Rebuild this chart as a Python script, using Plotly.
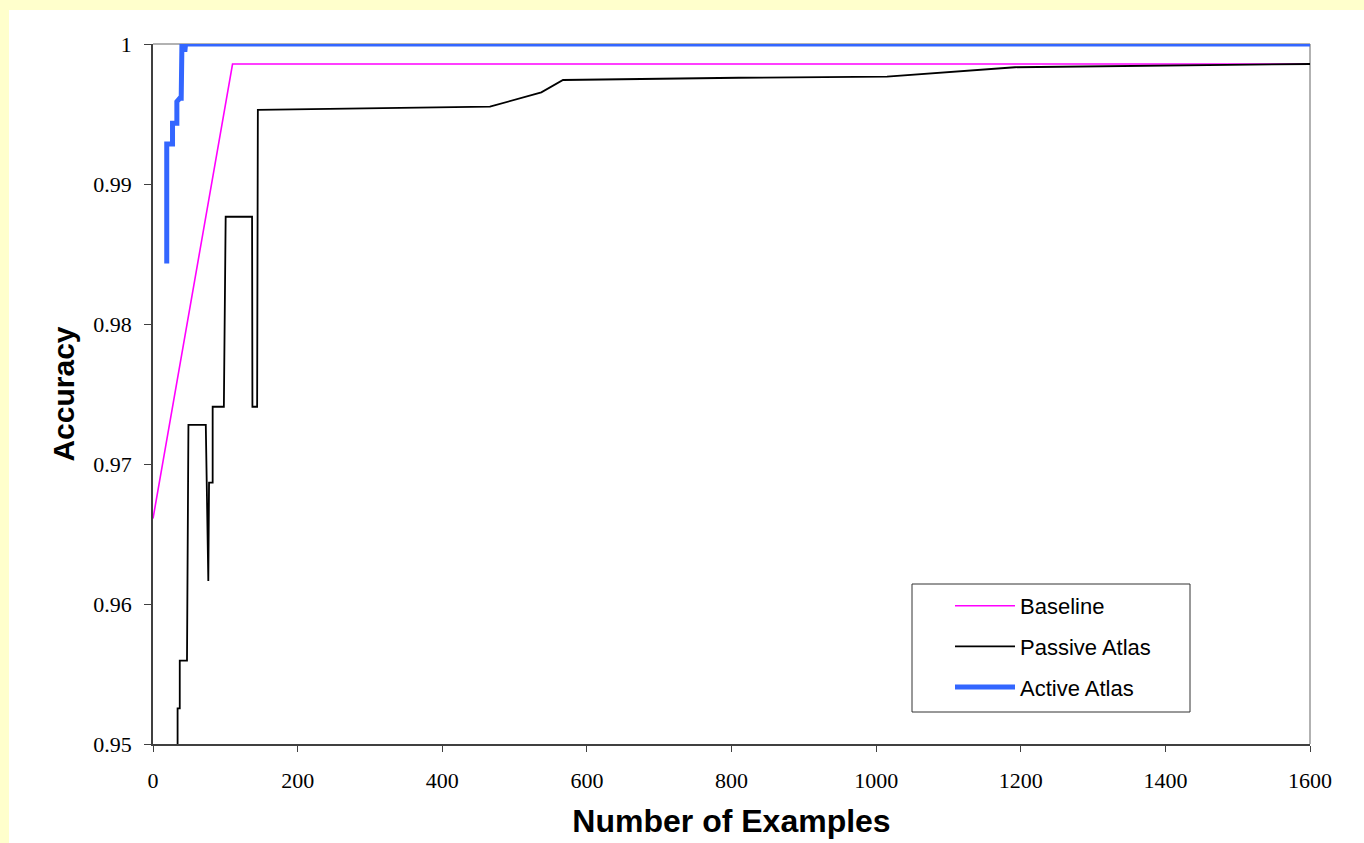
import plotly.graph_objects as go

# ---- data ----
baseline_x = [0, 110, 1600]
baseline_y = [0.9661, 0.99857, 0.99857]

passive_x = [34, 34, 37, 37, 47, 49, 73, 76.5, 77.5, 82.5, 82.5, 98, 100.5, 137, 137.5, 144, 145,
             466, 537, 567, 810, 1015, 1192, 1600]
passive_y = [0.9489, 0.95255, 0.95255, 0.95595, 0.95595, 0.97279, 0.97279, 0.96164, 0.96867, 0.96867,
             0.97409, 0.97409, 0.98766, 0.98766, 0.97409, 0.97409, 0.99529,
             0.99552, 0.99655, 0.99743, 0.99759, 0.99767, 0.99834, 0.99857]

active_x = [19, 19, 27, 27, 33, 33, 37, 39, 40, 43, 44, 45, 1600]
active_y = [0.98433, 0.99286, 0.99286, 0.99434, 0.99434, 0.99588, 0.99612, 0.99612, 1.0, 1.0, 0.99945, 1.0, 1.0]

x_ticks = [0, 200, 400, 600, 800, 1000, 1200, 1400, 1600]
y_ticks = [0.95, 0.96, 0.97, 0.98, 0.99, 1.0]
y_ticklabels = ["0.95", "0.96", "0.97", "0.98", "0.99", "1"]

# ---- layout constants ----
W, H = 1364, 843
L, R, T, B = 153, 54, 44, 99
pw, ph = W - L - R, H - T - B


def px2paper_x(px):
    return (px - L) / pw


def py2paper_y(py):
    return (H - B - py) / ph


fig = go.Figure()
fig.add_trace(go.Scatter(x=baseline_x, y=baseline_y, mode="lines", name="Baseline",
                         line=dict(color="#FF00FF", width=1.6), legendgroup="a"))
fig.add_trace(go.Scatter(x=passive_x, y=passive_y, mode="lines", name="Passive Atlas",
                         line=dict(color="#000000", width=1.8), legendgroup="b"))
fig.add_trace(go.Scatter(x=active_x, y=active_y, mode="lines", name="Active Atlas",
                         line=dict(color="#3366FF", width=5), legendgroup="c"))

tickfont = dict(family="Liberation Serif, Times New Roman, serif", size=22, color="#000000")
xtitlefont = dict(family="Liberation Sans, Arial, sans-serif", size=32, color="#000000")
ytitlefont = dict(family="Liberation Sans, Arial, sans-serif", size=30, color="#000000")

fig.update_layout(
    width=W, height=H,
    margin=dict(l=L, r=R, t=T, b=B, pad=0, autoexpand=False),
    paper_bgcolor="#FFFFCC",
    plot_bgcolor="#FFFFFF",
    showlegend=True,
    legend=dict(
        x=px2paper_x(950), y=py2paper_y(585), xanchor="left", yanchor="top",
        bgcolor="rgba(0,0,0,0)", borderwidth=0,
        font=dict(family="Liberation Sans, Arial, sans-serif", size=22, color="#000000"),
        tracegroupgap=9, traceorder="grouped", itemwidth=60,
    ),
    xaxis=dict(
        range=[0, 1600], tickvals=x_ticks, ticks="outside", ticklen=6, tickwidth=1,
        tickcolor="#404040", showline=True, linecolor="#404040", linewidth=1.5,
        showgrid=False, zeroline=False, tickfont=tickfont, ticklabelstandoff=10,
        automargin=False,
        title=dict(text="<b>Number of Examples</b>", font=xtitlefont, standoff=17),
    ),
    yaxis=dict(
        range=[0.95, 1.0], tickvals=y_ticks, ticktext=y_ticklabels, ticks="outside", ticklen=7,
        tickwidth=1, tickcolor="#404040", showline=True, linecolor="#404040", linewidth=1.5,
        showgrid=False, zeroline=False, tickfont=tickfont, ticklabelstandoff=8,
        automargin=False,
        title=dict(text="<b>Accuracy</b>", font=ytitlefont, standoff=10),
    ),
    shapes=[
        # white panel over the pale yellow background
        dict(type="rect", xref="paper", yref="paper", layer="below",
             x0=px2paper_x(9), x1=px2paper_x(W + 5), y0=py2paper_y(H + 5), y1=py2paper_y(10),
             fillcolor="#FFFFFF", line=dict(width=0)),
        # top and right frame lines (gray)
        dict(type="line", xref="paper", yref="paper", x0=0, x1=1, y0=1, y1=1,
             line=dict(color="#999999", width=1.5), layer="below"),
        dict(type="line", xref="paper", yref="paper", x0=1, x1=1, y0=0, y1=1,
             line=dict(color="#999999", width=1.5), layer="below"),
        # legend box
        dict(type="rect", xref="paper", yref="paper",
             x0=px2paper_x(912), x1=px2paper_x(1190), y0=py2paper_y(712), y1=py2paper_y(584),
             fillcolor="rgba(255,255,255,1)", line=dict(color="#333333", width=1), layer="below"),
    ],
)

fig.write_html("out.html")
